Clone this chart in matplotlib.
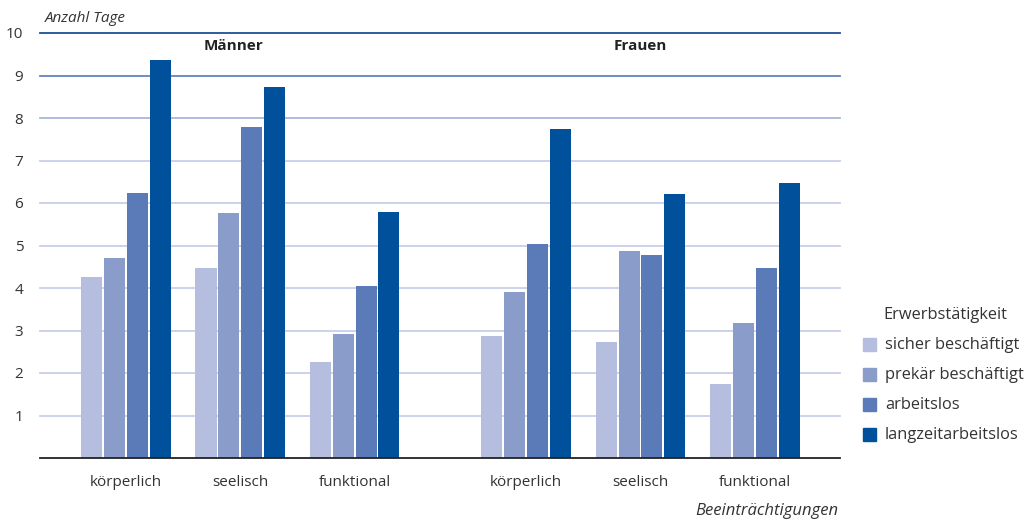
import numpy as np
import matplotlib.pyplot as plt
from matplotlib.patches import Rectangle

plt.rcParams['font.family'] = ['Open Sans', 'DejaVu Sans']

# Daten
kategorien = ["körperlich", "seelisch", "funktional", "körperlich", "seelisch", "funktional"]
gruppen = ["Männer", "Frauen"]
serien = ["sicher beschäftigt", "prekär beschäftigt", "arbeitslos", "langzeitarbeitslos"]
sicher = [4.26, 4.47, 2.26, 2.87, 2.73, 1.74]
prekaer = [4.70, 5.76, 2.92, 3.91, 4.87, 3.18]
arbeitslos = [6.24, 7.79, 4.05, 5.04, 4.78, 4.47]
langzeit = [9.36, 8.73, 5.79, 7.74, 6.21, 6.47]
werte = [sicher, prekaer, arbeitslos, langzeit]

farben = ["#b5bedf", "#8a9cc9", "#5b7bb8", "#00509b"]
grid_farben = {10: "#1f4e96", 9: "#6683c0", 8: "#aab5da"}
textfarbe = "#333333"

x = np.array([0, 1, 2, 3.5, 4.5, 5.5])
step = 0.2
breite = 0.184

W, H = 1026, 523
fig = plt.figure(figsize=(W/100, H/100), dpi=100)
ax = fig.add_axes([40/W, 1-458/H, 800/W, 425/H])

# Gitterlinien
for y in range(1, 11):
    ax.axhline(y, color=grid_farben.get(y, "#c8cfe8"), lw=1.3, zorder=0, clip_on=False)

for i, (vals, c) in enumerate(zip(werte, farben)):
    ax.bar(x + (i - 1.5) * step, vals, width=breite, color=c, zorder=2, label=serien[i])

ax.set_xlim(-0.752, 6.245)
ax.set_ylim(0, 10)
ax.set_xticks(x)
ax.set_xticklabels(kategorien, fontsize=11, color=textfarbe)
ax.set_yticks(range(1, 11))
ax.set_yticklabels([str(i) for i in range(1, 11)], fontsize=11, color=textfarbe)
ax.tick_params(axis="both", length=0)
ax.tick_params(axis="x", pad=12)
ax.tick_params(axis="y", pad=12)
for s in ["top", "right", "left"]:
    ax.spines[s].set_visible(False)
ax.spines["bottom"].set_color("#222222")
ax.spines["bottom"].set_linewidth(1.3)
ax.spines["bottom"].set_zorder(3)

# Gruppentitel
ax.text(0.94, 9.69, gruppen[0], ha="center", va="center", fontsize=11, fontweight="bold", color="#222222")
ax.text(4.5, 9.69, gruppen[1], ha="center", va="center", fontsize=11, fontweight="bold", color="#222222")

# Achsenbeschriftungen
fig.text(45/W, 1-18/H, "Anzahl Tage", fontsize=11, style="italic", color=textfarbe, va="center")
fig.text(838/W, 1-511/H, "Beeinträchtigungen", fontsize=12, style="italic", color=textfarbe,
         va="center", ha="right")

# Legende (manuell)
fig.text(883/W, 1-315/H, "Erwerbstätigkeit", fontsize=11.8, color=textfarbe, va="center")
for i, (name, c) in enumerate(zip(serien, farben)):
    yc = 345 + 30 * i
    fig.patches.append(Rectangle((863/W, 1-(yc+6)/H), 13/W, 13/H, transform=fig.transFigure,
                                 color=c, figure=fig))
    fig.text(885/W, 1-yc/H, name, fontsize=11.8, color=textfarbe, va="center")

plt.savefig("out.png", dpi=100)
